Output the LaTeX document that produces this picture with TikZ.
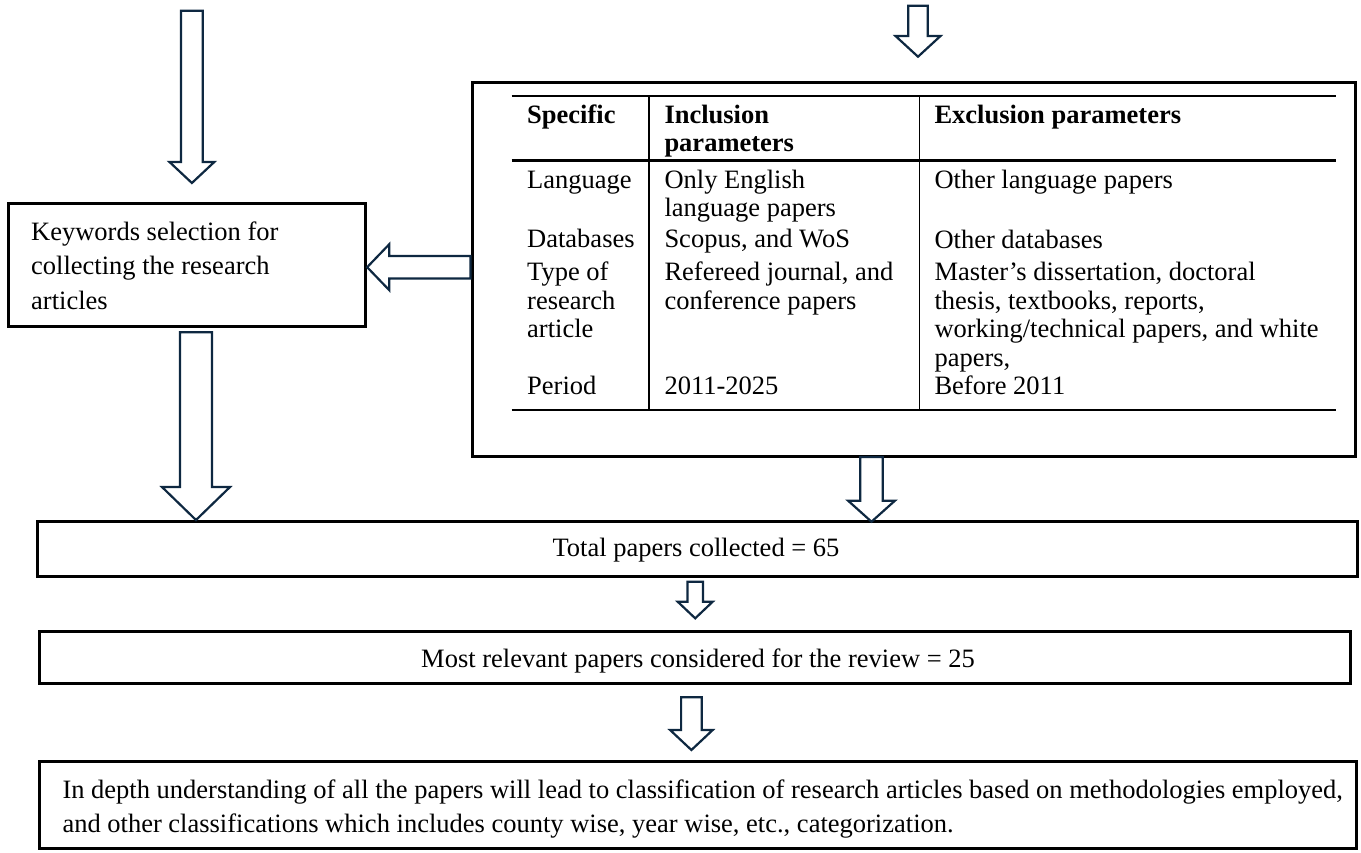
\documentclass[tikz,border=0pt]{standalone}
\usepackage{fontspec}
\setmainfont{Liberation Serif}
\definecolor{arrnavy}{RGB}{14,40,65}
\newcommand\DownBlock[6]{%
\draw[barrow] (#1-#2,#3) -- (#1+#2,#3) -- (#1+#2,#4) -- (#1+#5,#4) -- (#1,#6) -- (#1-#5,#4) -- (#1-#2,#4) -- cycle;}
\tikzset{
  box/.style={draw=black, line width=3pt, rectangle, inner sep=0pt, fill=white},
  barrow/.style={draw=arrnavy, line width=2.2pt, fill=white, line join=miter},
  txt/.style={anchor=base west, inner sep=0pt, font=\fontsize{26.5}{28}\selectfont},
  ctxt/.style={anchor=base, inner sep=0pt, font=\fontsize{26.5}{28}\selectfont},
  btxt/.style={anchor=base west, inner sep=0pt, font=\fontsize{26.5}{28}\selectfont\bfseries},
  rule/.style={line width=2.7pt},
  sep/.style={line width=1.2pt}
}
\begin{document}
\begin{tikzpicture}[x=1pt,y=-1pt]
\useasboundingbox (0,0) rectangle (1361,852);
% boxes
\node[box, minimum width=356.7pt, minimum height=123.4pt] (kw) at (187.3,265) {};
\node[box, minimum width=883pt, minimum height=374.4pt] (big) at (913.5,269.5) {};
\node[box, minimum width=1319.6pt, minimum height=54.7pt] (tot) at (697.5,549.3) {};
\node[box, minimum width=1311.4pt, minimum height=51.5pt] (most) at (695,657.7) {};
\node[box, minimum width=1316.7pt, minimum height=87.3pt] (fin) at (698.3,805.3) {};
% arrows
\DownBlock{191.9}{10.85}{10.7}{162}{22.4}{183}
\DownBlock{918}{9.7}{5.7}{36}{22.5}{56.7}
\DownBlock{196}{16}{332.3}{487}{34}{520}
\DownBlock{871.5}{11.2}{457}{500.7}{23.4}{521.7}
\DownBlock{695.2}{7.7}{581.7}{601.7}{17.5}{618.3}
\DownBlock{691.4}{10.3}{697.3}{730}{21.3}{750}
\draw[barrow] (big.west |- 0,256) -- (389.3,256) -- (389.3,244.2) -- (kw.east |- 0,267.2) -- (389.3,290.2) -- (389.3,278.4) -- (big.west |- 0,278.4) -- cycle;
% keywords text
\node[txt] (kw1) at (31,240) {Keywords selection for};
\node[txt] (kw2) at (31,274.5) {collecting the research};
\node[txt] (kw3) at (31,309) {articles};
% table rules
\draw[rule] (511.7,96) -- (1336,96);
\draw[rule] (511.7,160.7) -- (1336,160.7);
\draw[rule] (511.7,410) -- (1336,410);
\draw[sep] (649,96) -- (649,410);
\draw[sep] (919.3,96) -- (919.3,410);
% header
\node[btxt] (h1) at (527,123.3) {Specific};
\node[btxt] (h2) at (664.3,123.3) {Inclusion};
\node[btxt] (h2b) at (664.3,151.7) {parameters};
\node[btxt] (h3) at (934.3,123.3) {Exclusion parameters};
% rows
\node[txt] (r1a) at (527,188.3) {Language};
\node[txt] (r1b) at (664.3,188.3) {Only English};
\node[txt] (r1b2) at (664.3,216.8) {language papers};
\node[txt] (r1c) at (934.3,188.3) {Other language papers};
\node[txt] (r2a) at (527,247.5) {Databases};
\node[txt] (r2b) at (664.3,247.5) {Scopus, and WoS};
\node[txt] (r2c) at (934.3,248.5) {Other databases};
\node[txt] (r3a) at (527,280.5) {Type of};
\node[txt] (r3a2) at (527,309) {research};
\node[txt] (r3a3) at (527,337.5) {article};
\node[txt] (r3b) at (664.3,280.5) {Refereed journal, and};
\node[txt] (r3b2) at (664.3,309) {conference papers};
\node[txt] (r3c) at (934.3,280.5) {Master’s dissertation, doctoral};
\node[txt] (r3c2) at (934.3,309) {thesis, textbooks, reports,};
\node[txt] (r3c3) at (934.3,337.5) {working/technical papers, and white};
\node[txt] (r3c4) at (934.3,366) {papers,};
\node[txt] (r4a) at (527,394) {Period};
\node[txt] (r4b) at (664.3,394) {2011-2025};
\node[txt] (r4c) at (934.3,394) {Before 2011};
% lower texts
\node[ctxt] (tott) at (696,556) {Total papers collected = 65};
\node[ctxt] (mostt) at (698,667) {Most relevant papers considered for the review = 25};
\node[txt] (fin1) at (62.3,798) {In depth understanding of all the papers will lead to classification of research articles based on methodologies employed,};
\node[txt] (fin2) at (62.3,832) {and other classifications which includes county wise, year wise, etc., categorization.};
\end{tikzpicture}
\end{document}
